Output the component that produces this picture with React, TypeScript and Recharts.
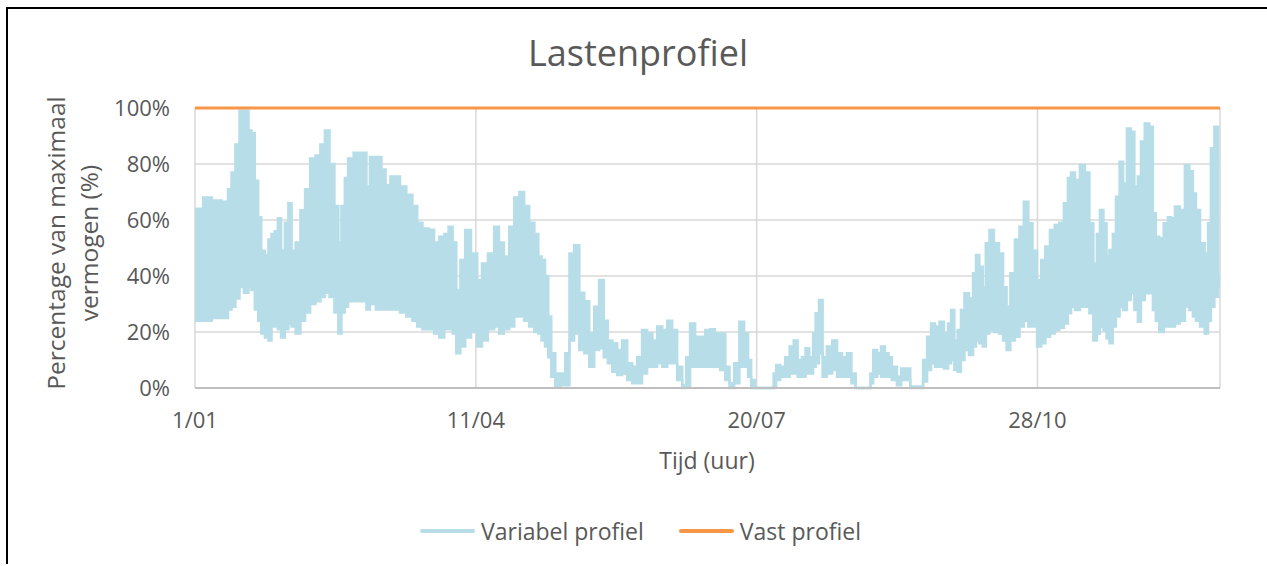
import { ComposedChart, Area, Line, XAxis, YAxis, CartesianGrid } from 'recharts'

const sampleDays = [
  0, 1.8, 4, 8, 11, 12.5, 13.5, 15.3, 16.4, 18.5, 19.6, 20.6, 22, 23, 24.2, 25.6, 26.7, 27.8, 29, 30,
  31.3, 32.7, 33.8, 35, 36.7, 38.4, 40, 42, 43.8, 45.5, 47, 48.8, 50.5, 51.6, 52.7, 54, 55, 58, 60.5, 61.6,
  63, 65.8, 67, 68.7, 70.5, 72, 74, 76.5, 78.3, 80, 82, 84.3, 86, 88, 89.6, 91, 92.5, 93.6, 95.4, 97,
  99.6, 101.4, 103, 105.6, 107.5, 109, 111, 112.8, 114.6, 116.4, 118, 120, 121.7, 122.8, 124, 125.3, 126.3, 127.4, 129.2, 131,
  132.7, 134, 136, 137.7, 139.5, 141.3, 143, 144.8, 146.3, 147.7, 149.5, 151.2, 153, 154.8, 156.6, 158.4, 160, 162, 163.7, 165.5,
  167.3, 169, 170.8, 172.6, 174.4, 175.4, 177.2, 179, 180.8, 182.6, 184.3, 186, 188, 189.7, 191, 193, 194.7, 196.4, 197.5, 198.6,
  200, 205.7, 206.4, 207.5, 209.3, 211, 212.5, 213.9, 215.3, 217, 217.8, 219.6, 220.6, 221.4, 223, 224, 226, 227.8, 229.5, 231.3,
  233, 234.5, 236, 240, 241, 242, 243.8, 244.8, 246.6, 247.3, 249, 250.9, 252, 254.4, 255, 258.7, 259.8, 261.6, 262.6, 264.4,
  265.8, 267.6, 268.7, 269.8, 271, 272.2, 273.3, 274.7, 276.5, 277.6, 278.6, 280, 281, 282.2, 283.6, 285.4, 287.2, 288.3, 289.7, 291,
  292.9, 294.3, 296, 297.5, 299, 300.7, 302, 303.6, 305.3, 307, 308.5, 310.3, 311.4, 312.5, 314.2, 316, 317.8, 319.2, 320.6, 321.7,
  322.8, 324.2, 325, 326.3, 327.4, 328.5, 330, 331, 332.7, 333.8, 335.2, 336.3, 337.4, 339, 340.6, 341.6, 342.7, 344, 345.9, 347,
  348.1, 349.8, 351.6, 353.4, 354.8, 355.9, 357, 358.8, 360.3, 361.2, 362.3, 363.7, 365,
]

// variabel profiel: dagpieken (%)
const variabelMax = [
  64, 64, 68, 67, 66.5, 71, 77, 87, 99, 99, 92, 91, 74, 61, 49, 47.5, 53, 55, 56, 60.6,
  49, 59, 66, 49, 52, 63.5, 71, 82, 83, 87, 92, 80, 65, 52, 65, 75, 82, 84, 84, 72,
  82.5, 82.5, 78, 72.5, 75.5, 75.5, 72, 69, 65, 59, 57, 56.5, 52, 54, 55, 57.6, 52, 35, 45.7, 56.4,
  48, 38.6, 44.5, 48, 57.6, 52, 47, 57.6, 68, 70, 65, 59, 55, 47, 45.7, 40, 25.5, 12.4, 5.2, 5.2,
  12.4, 48, 51, 34, 31, 19.5, 29, 38.6, 24, 17, 16, 13.6, 17, 8.8, 7.6, 11, 20.7, 19.5, 17, 22,
  20.7, 24, 20.7, 7.6, 1, 11, 23, 18.3, 18.3, 20.7, 21, 19.5, 19.5, 7.6, 1.7, 8.8, 23.7, 19.5, 10, 2.9,
  0, 0, 5.2, 8.2, 7.6, 11, 14.8, 17, 10, 11, 14.2, 11, 19.5, 26.7, 31.4, 11, 14.8, 17, 12.4, 11,
  12.4, 5.2, 0, 0, 5.2, 13.6, 12.4, 14.8, 12.4, 11, 7.6, 4, 7, 7, 0.5, 0.5, 10, 18.3, 23, 22,
  23.7, 19.5, 23, 27.9, 17, 20.7, 27.9, 33.8, 32, 41, 47.5, 43.3, 36, 51.7, 56.4, 51.7, 48, 36, 29, 41,
  53, 57.6, 66.5, 58.8, 49, 38.6, 45.7, 50.5, 56.4, 58.2, 59, 66, 75, 77, 74.3, 79.6, 77, 58.8, 44.5, 55,
  63.6, 58.8, 47, 49.3, 55, 68.3, 80.8, 73, 92.7, 91.5, 72, 75.5, 88, 94.5, 93.3, 62.4, 54, 53.5, 58.8, 61,
  60.6, 64.8, 63.6, 79.6, 77.4, 69.5, 63.6, 51.7, 48, 58.8, 85.6, 93.3, 40,
]

// variabel profiel: nachtelijke dalen (%)
const variabelMin = [
  24, 24, 24, 25, 25, 28, 29, 32, 36, 34, 36, 35, 28, 24, 19.5, 18, 17, 22, 22, 21,
  18, 21, 23, 22, 19.5, 24, 27, 30, 31, 32.5, 34, 32.5, 27, 19.5, 27, 29, 31, 31, 31, 28,
  30, 28, 28, 28, 28, 28, 27, 25.5, 24, 22, 21, 21, 19.5, 18, 21, 21, 19.5, 12.4, 14.8, 18,
  20, 14.8, 17, 21, 22, 19.5, 21, 22, 25.5, 25.5, 24, 22, 20, 19.5, 17, 14.8, 11, 4, 0.7, 1,
  1, 17, 19.5, 13.6, 12.4, 7.6, 13.6, 14.2, 11, 8.8, 5.8, 4.6, 5.2, 2.9, 1.7, 1.7, 5.2, 7.6, 7.6, 8.8,
  7.6, 8.8, 8.8, 2.9, 0, 0.5, 7.6, 7.6, 7.6, 7.6, 7.6, 7.6, 6.4, 2.9, 0, 1.7, 7.6, 7.6, 4, 0,
  0, 0, 0.5, 2.9, 4, 4, 5.2, 5.2, 4, 4, 5.2, 5.2, 7.6, 8.8, 12.4, 4, 5.2, 6.4, 4, 4,
  4, 1.7, 0, 0, 1.7, 4, 5.2, 4, 4, 4, 2.9, 1, 2.9, 2.9, 0, 0, 2.3, 6.4, 8.8, 7.6,
  7.6, 7, 8.8, 10, 6.4, 5.8, 10, 13.6, 11.8, 14.8, 17, 16, 14.8, 19.5, 20.7, 20, 19.5, 17, 13.6, 17,
  18.3, 22, 24, 22, 22, 14.8, 16, 18.3, 19.5, 20.7, 21.5, 23, 26.7, 29, 27.9, 29, 29, 26.7, 17, 19.5,
  22, 20.7, 17.7, 16, 22, 25.5, 29, 27.9, 31.4, 33.8, 27.9, 23.7, 31.4, 33.8, 33.8, 27.9, 24, 20, 22, 22,
  22, 23, 24, 29, 27.9, 25.5, 24, 22, 19.5, 24, 29, 32.6, 36,
]

// vast profiel: altijd op maximaal vermogen
const vastProfiel = 100

const xTickDays = [0, 100, 200, 300]
const xTickLabels = ['1/01', '11/04', '20/07', '28/10']
const yTicks = [0, 20, 40, 60, 80, 100]

const seriesNames = ['Variabel profiel', 'Vast profiel']
const seriesColors = ['#B7DDE8', '#F79646']

const data = sampleDays.map((day, i) => ({
  day,
  variabel: [variabelMin[i], variabelMax[i]],
  vast: vastProfiel,
}))

const FONT = '"Open Sans", sans-serif'
const TEXT = '#595959'

const YTitle = () => (
  <g fill={TEXT} fontFamily={FONT} fontSize={24.5}>
    <text x={57} y={234} textAnchor="middle" transform="rotate(-90 57 234)">
      Percentage van maximaal
    </text>
    <text x={90} y={234} textAnchor="middle" transform="rotate(-90 90 234)">
      vermogen (%)
    </text>
  </g>
)

export default function App() {
  return (
    <div
      style={{
        position: 'absolute',
        left: 6,
        top: 7,
        borderTop: '2px solid #000',
        borderLeft: '2px solid #000',
        background: '#fff',
        fontFamily: FONT,
        color: TEXT,
      }}
    >
      <div style={{ position: 'relative', width: 1259, height: 555 }}>
        <ComposedChart
          width={1259}
          height={555}
          data={data}
          margin={{ top: 99, right: 47, left: 107, bottom: 136 }}
        >
          <CartesianGrid stroke="#D9D9D9" strokeWidth={1.5} />
          <XAxis
            dataKey="day"
            type="number"
            domain={[0, 365]}
            ticks={xTickDays}
            tickFormatter={(v: number) => xTickLabels[xTickDays.indexOf(v)] ?? ''}
            tick={{ fill: TEXT, fontSize: 22, fontFamily: FONT }}
            tickLine={false}
            tickSize={0}
            tickMargin={24}
            axisLine={{ stroke: '#BFBFBF', strokeWidth: 2 }}
            height={40}
            interval={0}
          />
          <YAxis
            domain={[0, 100]}
            ticks={yTicks}
            tickFormatter={(v: number) => `${v}%`}
            tick={{ fill: TEXT, fontSize: 22, fontFamily: FONT }}
            tickLine={false}
            tickSize={0}
            tickMargin={25}
            axisLine={false}
            width={80}
            interval={0}
            label={{ content: () => <YTitle /> }}
          />
          <Area
            dataKey="variabel"
            type="step"
            stroke={seriesColors[0]}
            strokeWidth={2.5}
            fill={seriesColors[0]}
            fillOpacity={1}
            dot={false}
            activeDot={false}
            isAnimationActive={false}
          />
          <Line
            dataKey="vast"
            type="linear"
            stroke={seriesColors[1]}
            strokeWidth={3}
            dot={false}
            activeDot={false}
            isAnimationActive={false}
          />
        </ComposedChart>

        <div
          style={{
            position: 'absolute',
            left: 630,
            top: 26,
            transform: 'translateX(-50%)',
            fontSize: 36,
            lineHeight: '36px',
            whiteSpace: 'nowrap',
          }}
        >
          Lastenprofiel
        </div>

        <div
          style={{
            position: 'absolute',
            left: 699,
            top: 440,
            transform: 'translateX(-50%)',
            fontSize: 23,
            lineHeight: '23px',
            whiteSpace: 'nowrap',
          }}
        >
          Tijd (uur)
        </div>

        <div
          style={{
            position: 'absolute',
            left: 412,
            top: 506,
            height: 32,
            display: 'flex',
            alignItems: 'center',
            fontSize: 23,
            whiteSpace: 'nowrap',
          }}
        >
          {seriesNames.map((name, i) => (
            <div key={name} style={{ display: 'flex', alignItems: 'center', marginRight: i === 0 ? 35 : 0 }}>
              <span
                style={{
                  display: 'inline-block',
                  width: 55,
                  height: 4,
                  borderRadius: 2,
                  background: seriesColors[i],
                  marginRight: 6,
                }}
              />
              <span>{name}</span>
            </div>
          ))}
        </div>
      </div>
    </div>
  )
}
